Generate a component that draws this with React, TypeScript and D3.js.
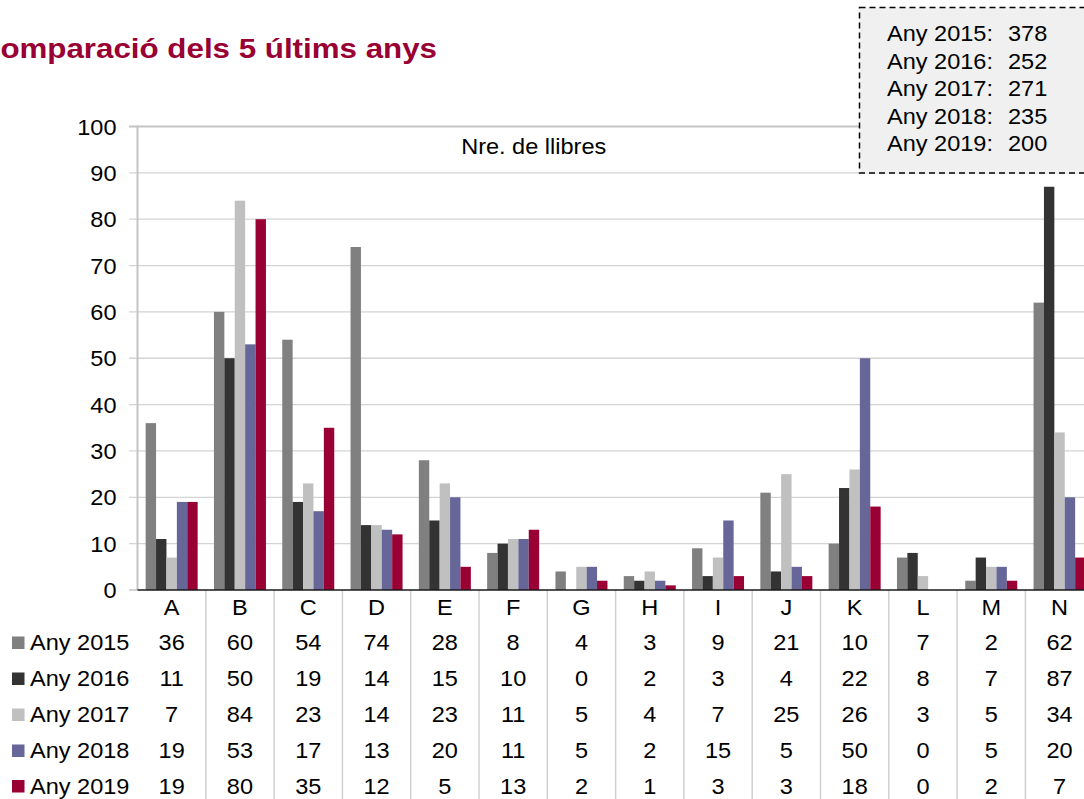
import React from "react";
import * as d3 from "d3";

const categories = ["A", "B", "C", "D", "E", "F", "G", "H", "I", "J", "K", "L", "M", "N"];
const seriesNames = ["Any 2015", "Any 2016", "Any 2017", "Any 2018", "Any 2019"];
const v2015 = [36, 60, 54, 74, 28, 8, 4, 3, 9, 21, 10, 7, 2, 62];
const v2016 = [11, 50, 19, 14, 15, 10, 0, 2, 3, 4, 22, 8, 7, 87];
const v2017 = [7, 84, 23, 14, 23, 11, 5, 4, 7, 25, 26, 3, 5, 34];
const v2018 = [19, 53, 17, 13, 20, 11, 5, 2, 15, 5, 50, 0, 5, 20];
const v2019 = [19, 80, 35, 12, 5, 13, 2, 1, 3, 3, 18, 0, 2, 7];
const totals = [378, 252, 271, 235, 200];
const yTicks = [0, 10, 20, 30, 40, 50, 60, 70, 80, 90, 100];
const title = "Comparació dels 5 últims anys";
const subtitle = "Nre. de llibres";

const seriesValues = [v2015, v2016, v2017, v2018, v2019];
const colors = ["#808080", "#333333", "#c0c0c0", "#666699", "#990033"];

const FONT = "'Liberation Sans', Arial, Helvetica, sans-serif";
const SX = 1.07;

function T(props: { x: number; y: number; anchor?: string; size?: number; weight?: string; fill?: string; sx?: number; children: any }) {
  const { x, y, anchor = "start", size = 22, weight = "normal", fill = "#000", sx = SX, children } = props;
  return (
    <text
      transform={`translate(${x},${y}) scale(${sx},1)`}
      textAnchor={anchor}
      fontSize={size}
      fontWeight={weight}
      fill={fill}
      fontFamily={FONT}
    >
      {children}
    </text>
  );
}

export default function App() {
  const W = 1084;
  const H = 799;
  const left = 137.5;
  const catW = 68.3;
  const x = d3.scaleBand<string>().domain(categories).range([left, left + catW * categories.length]).padding(0);
  const inner = d3.scaleBand<string>().domain(seriesNames).range([8.15, catW - 8.15]).padding(0);
  const y = d3.scaleLinear().domain([0, 100]).range([590, 126.5]);
  const right = left + catW * categories.length;
  const rowBase = [650, 686, 722, 758, 793.5];

  return (
    <svg width={W} height={H} style={{ position: "absolute", left: 0, top: 0, display: "block", background: "#fff" }}>
      {/* title */}
      <T x={437} y={58} anchor="end" size={27} weight="bold" fill="#990033" sx={1.16}>{title}</T>

      {/* gridlines */}
      {yTicks.filter((t) => t > 0 && t < 100).map((t) => (
        <line key={t} x1={129} x2={right} y1={y(t)} y2={y(t)} stroke="#d4d4d4" strokeWidth={1.3} />
      ))}
      {/* top border */}
      <line x1={129} x2={right} y1={y(100)} y2={y(100)} stroke="#c4c4c4" strokeWidth={2} />
      <line x1={129} x2={left} y1={y(0)} y2={y(0)} stroke="#c4c4c4" strokeWidth={1.5} />
      {/* left axis */}
      <line x1={left} x2={left} y1={y(100) - 1} y2={y(0)} stroke="#c4c4c4" strokeWidth={2} />

      {/* y tick labels */}
      {yTicks.map((t) => (
        <T key={t} x={116.5} y={y(t) + 8} anchor="end">{t}</T>
      ))}

      {/* bars */}
      {categories.map((c, ci) => (
        <g key={c}>
          {seriesNames.map((s, si) => {
            const v = seriesValues[si][ci];
            if (v <= 0) return null;
            return (
              <rect
                key={s}
                x={(x(c) as number) + (inner(s) as number)}
                y={y(v)}
                width={inner.bandwidth()}
                height={y(0) - y(v)}
                fill={colors[si]}
              />
            );
          })}
        </g>
      ))}

      {/* subtitle */}
      <T x={533.7} y={154.3} anchor="middle">{subtitle}</T>

      {/* table dividers */}
      {categories.slice(1).map((c) => (
        <line key={c} x1={x(c) as number} x2={x(c) as number} y1={y(0)} y2={H} stroke="#d0d0d0" strokeWidth={1.5} />
      ))}
      {/* x axis line */}
      <line x1={left} x2={right} y1={y(0)} y2={y(0)} stroke="#1a1a1a" strokeWidth={1.5} />

      {/* category labels */}
      {categories.map((c) => (
        <T key={c} x={(x(c) as number) + x.bandwidth() / 2} y={615} anchor="middle">{c}</T>
      ))}

      {/* table rows */}
      {seriesNames.map((s, si) => (
        <g key={s}>
          <rect x={12} y={rowBase[si] - 13.5} width={12.5} height={12.5} fill={colors[si]} />
          <T x={30} y={rowBase[si]}>{s}</T>
          {categories.map((c, ci) => (
            <T key={c} x={(x(c) as number) + x.bandwidth() / 2} y={rowBase[si]} anchor="middle">
              {seriesValues[si][ci]}
            </T>
          ))}
        </g>
      ))}

      {/* totals box */}
      <rect x={859.5} y={7.5} width={240} height={165.5} fill="#f0f0f0" stroke="#000" strokeWidth={1.5} strokeDasharray="6,4" />
      {seriesNames.map((s, si) => (
        <g key={s}>
          <T x={887} y={41 + si * 27.6}>{s + ":"}</T>
          <T x={1008} y={41 + si * 27.6}>{totals[si]}</T>
        </g>
      ))}
    </svg>
  );
}
